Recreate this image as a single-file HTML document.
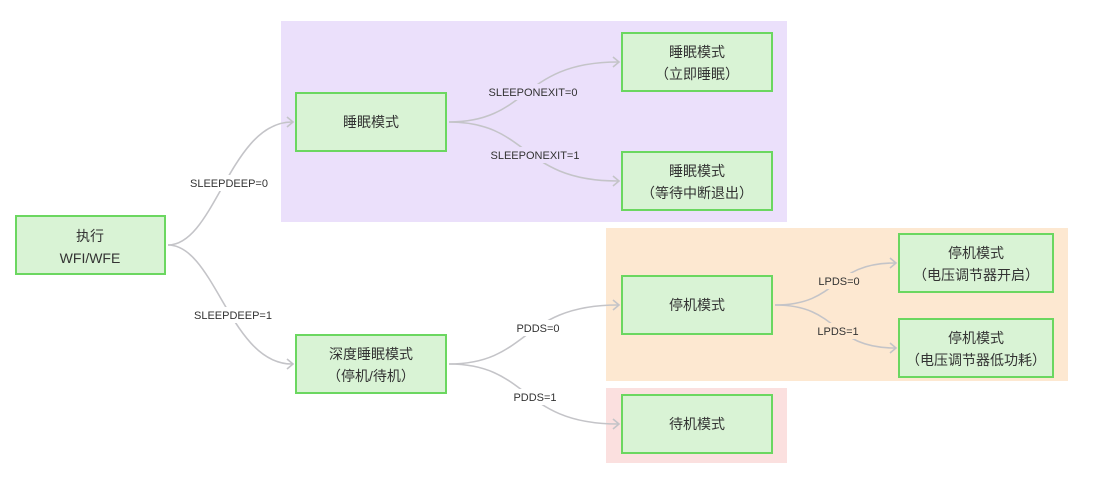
<!DOCTYPE html>
<html><head><meta charset="utf-8"><style>
html,body{margin:0;padding:0;background:#fff;width:1095px;height:481px;overflow:hidden}
svg text{font-family:"Liberation Sans","Noto Sans CJK SC",sans-serif;fill:#333}
.n{fill:#d9f3d5;stroke:#6bd760;stroke-width:2}
.e{fill:none;stroke:#c4c4c8;stroke-width:1.6}
.a{fill:none;stroke:#c4c4c8;stroke-width:1.6}
.t{font-size:14px}
.l{font-size:11px}
</style></head><body>
<svg width="1095" height="481" viewBox="0 0 1095 481" xmlns="http://www.w3.org/2000/svg">
<rect x="281" y="21" width="506" height="201" fill="#ebe0fb"/>
<rect x="606" y="228" width="462" height="153" fill="#fde8d1"/>
<rect x="606" y="388" width="181" height="75" fill="#fbe0df"/>

<g class="e">
<path d="M168,245 C215,245 230,122 292,122"/>
<path d="M168,245 C215,245 230,364 292,364"/>
<path d="M449,122 C530,122 520,62 618,62"/>
<path d="M449,122 C530,122 520,181 618,181"/>
<path d="M449,364 C530,364 520,305 618,305"/>
<path d="M449,364 C530,364 520,424 618,424"/>
<path d="M775,305 C840,305 830,263 895,263"/>
<path d="M775,305 C840,305 830,348 895,348"/>
</g>
<g class="a">
<path d="M287,117 L293,122 L287,127"/>
<path d="M287,359 L293,364 L287,369"/>
<path d="M613,57 L619,62 L613,67"/>
<path d="M613,176 L619,181 L613,186"/>
<path d="M613,300 L619,305 L613,310"/>
<path d="M613,419 L619,424 L613,429"/>
<path d="M890,258 L896,263 L890,268"/>
<path d="M890,343 L896,348 L890,353"/>
</g>

<rect x="190" y="175" width="80" height="16" fill="#fff"/>
<rect x="194" y="307" width="80" height="16" fill="#fff"/>
<rect x="488" y="84" width="92" height="16" fill="#ebe0fb"/>
<rect x="490" y="147" width="92" height="16" fill="#ebe0fb"/>
<rect x="515" y="320" width="46" height="16" fill="#fff"/>
<rect x="512" y="389" width="46" height="16" fill="#fff"/>
<rect x="818" y="273" width="44" height="16" fill="#fde8d1"/>
<rect x="816" y="323" width="44" height="16" fill="#fde8d1"/>
<g class="l" text-anchor="middle">
<text x="229" y="187">SLEEPDEEP=0</text>
<text x="233" y="319">SLEEPDEEP=1</text>
<text x="533" y="96">SLEEPONEXIT=0</text>
<text x="535" y="159">SLEEPONEXIT=1</text>
<text x="538" y="332">PDDS=0</text>
<text x="535" y="401">PDDS=1</text>
<text x="839" y="285">LPDS=0</text>
<text x="838" y="335">LPDS=1</text>
</g>

<rect class="n" x="16" y="216" width="149" height="58"/>
<rect class="n" x="296" y="93" width="150" height="58"/>
<rect class="n" x="622" y="33" width="150" height="58"/>
<rect class="n" x="622" y="152" width="150" height="58"/>
<rect class="n" x="296" y="335" width="150" height="58"/>
<rect class="n" x="622" y="276" width="150" height="58"/>
<rect class="n" x="899" y="234" width="154" height="58"/>
<rect class="n" x="899" y="319" width="154" height="58"/>
<rect class="n" x="622" y="395" width="150" height="58"/>
<g class="t" text-anchor="middle">
<text x="90" y="241">执行</text>
<text x="90" y="263">WFI/WFE</text>
<text x="371" y="127">睡眠模式</text>
<text x="697" y="57">睡眠模式</text>
<text x="697" y="79">（立即睡眠）</text>
<text x="697" y="176">睡眠模式</text>
<text x="697" y="198">（等待中断退出）</text>
<text x="371" y="359">深度睡眠模式</text>
<text x="371" y="381">（停机/待机）</text>
<text x="697" y="310">停机模式</text>
<text x="976" y="258">停机模式</text>
<text x="976" y="280">（电压调节器开启）</text>
<text x="976" y="343">停机模式</text>
<text x="976" y="365">（电压调节器低功耗）</text>
<text x="697" y="429">待机模式</text>
</g>
</svg>
</body></html>
